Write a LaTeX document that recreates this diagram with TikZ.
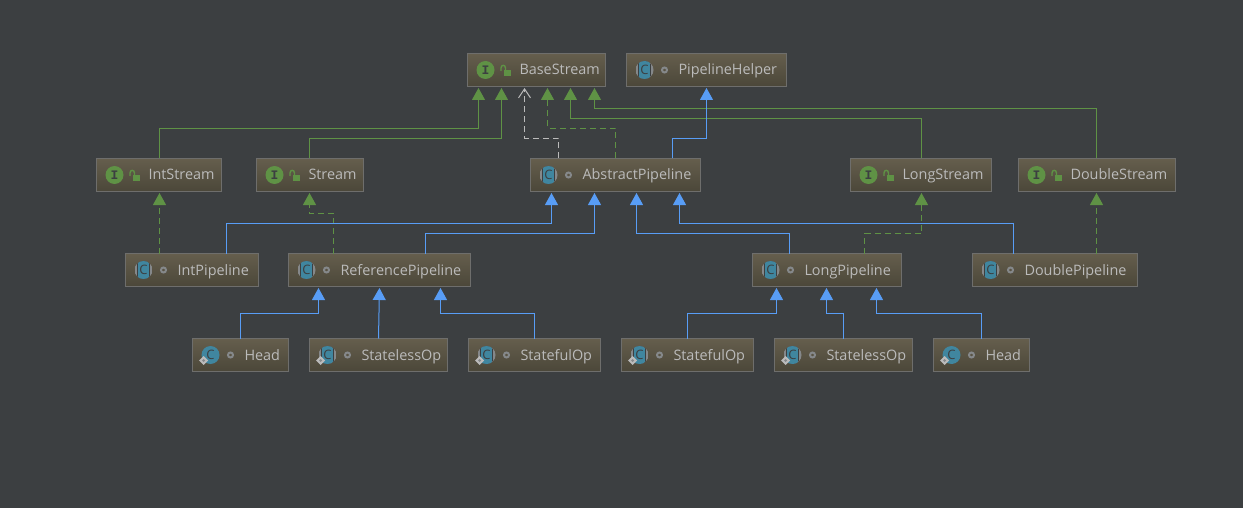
\documentclass[tikz,border=0pt]{standalone}
\usepackage{fontspec}
\setmainfont{Open Sans}
\newfontfamily\slabfont{Liberation Mono}
\usetikzlibrary{arrows.meta,calc}
\definecolor{bgdark}{HTML}{3C3F41}
\definecolor{boxtop}{HTML}{655E4D}
\definecolor{boxbot}{HTML}{4B4739}
\definecolor{boxline}{HTML}{6E6E6C}
\definecolor{txtgray}{HTML}{BBBBBB}
\definecolor{ifgreen}{HTML}{5F9245}
\definecolor{clsblue}{HTML}{589DF6}
\definecolor{clsteal}{HTML}{40869F}
\definecolor{ringgray}{HTML}{85888A}
\tikzset{
  typebox/.style={draw=boxline,line width=1pt,top color=boxtop,bottom color=boxbot,outer sep=0pt,
    minimum height=33pt,inner sep=0pt,font=\fontsize{14.4}{16}\selectfont,text=txtgray},
  extblue/.style={draw=clsblue,line width=1pt,-{Triangle[width=13pt,length=12pt,fill=clsblue]},shorten >=1.5pt},
  extgreen/.style={draw=ifgreen,line width=1pt,-{Triangle[width=13pt,length=12pt,fill=ifgreen]},shorten >=1.5pt},
  impgreen/.style={extgreen,dash pattern=on 6pt off 4pt},
  impwhite/.style={draw=txtgray,line width=1pt,dash pattern=on 6pt off 4pt,
    -{Straight Barb[length=9pt,width=12pt]},shorten >=1.5pt},
  letter/.style={inner sep=0pt,font=\fontsize{13}{13}\selectfont,text=bgdark},
  pics/pubdot/.style={code={
    \draw[ringgray,line width=2pt] (0,0) circle (2.5);
  }},
  pics/openlock/.style={code={
    \fill[ifgreen] (-1.5,0) rectangle (5,6);
    \draw[ifgreen,line width=1.4pt] (-4.5,1) -- (-4.5,-2) .. controls (-4.5,-5.5) and (0,-5.5) .. (0,-2) -- (0,0);
  }},
  pics/pinmark/.style={code={
    \fill[txtgray] (-4.5,0) -- (0,-4.5) -- (4.5,0) -- (0,4.5) -- cycle;
    \fill[ringgray] (0,0) circle (1.5);
  }},
  pics/ifaceicon/.style={code={
    \fill[ifgreen] (0,0) circle (9);
    \node[letter,font=\fontsize{13}{13}\selectfont\slabfont\bfseries] (ltr) at (0,0) {I};
    \pic at (20,0) {openlock};
  }},
  pics/absicon/.style={code={
    \begin{scope}
      \clip (0,0) circle (9);
      \fill[ringgray] (-9,-9) rectangle (9,9);
      \fill[bgdark] (-6.5,-9) rectangle (6.5,9);
      \fill[clsteal] (-5.5,-9) rectangle (5.5,9);
    \end{scope}
    \node[letter] (ltr) at (0,0) {C};
    \pic at (20,0) {pubdot};
  }},
  pics/absinner/.style={code={
    \pic {absicon};
    \pic at (-7,5.5) {pinmark};
  }},
  pics/clsinner/.style={code={
    \fill[clsteal] (0,0) circle (9);
    \node[letter] (ltr) at (0,0) {C};
    \pic at (20,0) {pubdot};
    \pic at (-7,5.5) {pinmark};
  }},
}

\begin{document}
\begin{tikzpicture}[x=1pt,y=-1pt]
\path[use as bounding box,fill=bgdark] (0,0) rectangle (1243,508);

\foreach \boxname/\xl/\xr/\yc/\ic/\lbl [evaluate=\xr as \boxw using \xr-\xl] in {
    base/467/605/70/ifaceicon/BaseStream,
    helper/626/786/70/absicon/PipelineHelper,
    intstream/96/221/175/ifaceicon/IntStream,
    stream/256/363/175/ifaceicon/Stream,
    abstract/530/700/175/absicon/AbstractPipeline,
    longstream/850/991/175/ifaceicon/LongStream,
    doublestream/1018/1175/175/ifaceicon/DoubleStream,
    intpipe/125/258/270/absicon/IntPipeline,
    refpipe/288/470/270/absicon/ReferencePipeline,
    longpipe/752/901/270/absicon/LongPipeline,
    doublepipe/972/1137/270/absicon/DoublePipeline,
    refhead/192/288/355/clsinner/Head,
    refless/309/447/355/absinner/StatelessOp,
    refful/468/600/355/absinner/StatefulOp,
    longful/621/753/355/absinner/StatefulOp,
    longless/774/912/355/absinner/StatelessOp,
    longhead/933/1029/355/clsinner/Head}
{
  \node[typebox,minimum width=\boxw pt] (\boxname) at ({(\xl+\xr)/2+0.5},\yc)
    {\makebox[\boxw pt][l]{\hspace{52pt}\raisebox{0pt}[10pt][0pt]{\lbl}}};
  \pic (\boxname-icon) at ([xshift=18pt]\boxname.west) {\ic};
}

% interfaces up to BaseStream
\draw[extgreen] ([xshift=0.5pt]intstream.north) -- ++(0,-30) -| ([xshift=-58pt]base.south);
\draw[extgreen] ([xshift=-0.5pt]stream.north) -- ++(0,-20) -| ([xshift=-35pt]base.south);
\draw[extgreen] ([xshift=0.5pt]longstream.north) -- ++(0,-40) -| ([xshift=34pt]base.south);
\draw[extgreen] ([xshift=-0.5pt]doublestream.north) -- ++(0,-50) -| ([xshift=58pt]base.south);
\draw[impwhite] ([xshift=-57pt]abstract.north) -- ++(0,-20) -| ([xshift=-12pt]base.south);
\draw[impgreen] (abstract.north) -- ++(0,-30) -| ([xshift=11pt]base.south);
\draw[extblue] ([xshift=57pt]abstract.north) -- ++(0,-20) -| (helper.south);

% pipelines
\draw[impgreen] ([xshift=-32.5pt]intpipe.north) -- ([xshift=0.5pt]intstream.south);
\draw[impgreen] ([xshift=-46pt]refpipe.north) -- ++(0,-40) -| ([xshift=-0.5pt]stream.south);
\draw[impgreen] ([xshift=37.5pt]longpipe.north) -- ++(0,-20) -| ([xshift=0.5pt]longstream.south);
\draw[impgreen] ([xshift=41.5pt]doublepipe.north) -- ([xshift=-0.5pt]doublestream.south);
\draw[extblue] ([xshift=34.5pt]intpipe.north) -- ++(0,-30) -| ([xshift=-64pt]abstract.south);
\draw[extblue] ([xshift=46pt]refpipe.north) -- ++(0,-20) -| ([xshift=-21pt]abstract.south);
\draw[extblue] ([xshift=-37.5pt]longpipe.north) -- ++(0,-20) -| ([xshift=21pt]abstract.south);
\draw[extblue] ([xshift=-41.5pt]doublepipe.north) -- ++(0,-30) -| ([xshift=64pt]abstract.south);

% inner classes
\draw[extblue] (refhead.north) -- ++(0,-25) -| ([xshift=-61pt]refpipe.south);
\draw[extblue] (refless.north) -- (refpipe.south);
\draw[extblue] (refful.north) -- ++(0,-25) -| ([xshift=61pt]refpipe.south);
\draw[extblue] (longful.north) -- ++(0,-25) -| ([xshift=-50.5pt]longpipe.south);
\draw[extblue] (longless.north) -- ++(0,-25) -| ([xshift=-0.5pt]longpipe.south);
\draw[extblue] (longhead.north) -- ++(0,-25) -| ([xshift=49.5pt]longpipe.south);
\end{tikzpicture}
\end{document}
